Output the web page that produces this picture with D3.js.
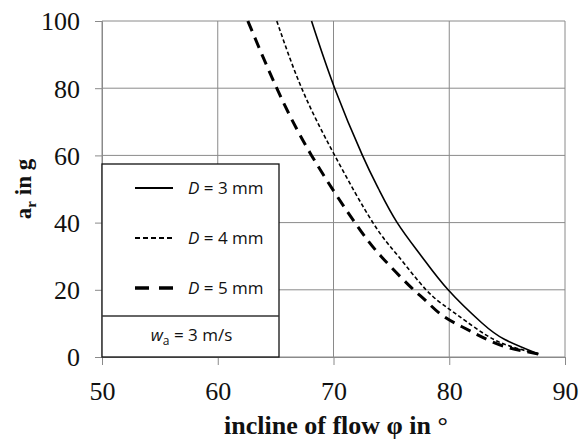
<!DOCTYPE html>
<html>
<head>
<meta charset="utf-8">
<script src="https://cdn.jsdelivr.net/npm/d3@7"></script>
<style>
  body { margin: 0; background: #fff; }
  svg { display: block; }
</style>
</head>
<body>
<div id="chart"></div>
<script>
// values
const xTicks = [50, 60, 70, 80, 90];
const yTicks = [0, 20, 40, 60, 80, 100];

const seriesNames = ["D = 3 mm", "D = 4 mm", "D = 5 mm"];
const d3mm = [[68.1,100],[70.1,80],[72.5,60],[73.9,50],[75.5,40],[77.6,30],[79.9,20],[82.8,10.2],[84.8,5.2],[87.7,0.9]];
const d4mm = [[65.1,100],[67.25,80],[70.1,60],[73.4,40],[75.6,30],[78.0,20],[79.9,14.5],[81.5,10.5],[83.2,6.5],[85.0,3.5],[87.7,0.9]];
const d5mm = [[62.6,100],[65.1,80],[68.1,60],[71.85,40],[74.1,30],[76.5,21.4],[77.9,17],[79.35,12.5],[81.1,9],[82.8,6],[84.8,3.1],[87.7,0.9]];

const styles = [
  { width: 1.6, dash: null },
  { width: 1.6, dash: "4,2.5" },
  { width: 3, dash: "11,7" }
];

const serif = "'Liberation Serif', 'Times New Roman', serif";
const sans = "'Open Sans', 'Liberation Sans', sans-serif";

const width = 587, height = 439;
const margin = { top: 21, right: 22, bottom: 82, left: 102 };
const innerWidth = width - margin.left - margin.right;
const innerHeight = height - margin.top - margin.bottom;

const svg = d3.select("#chart").append("svg")
  .attr("width", width).attr("height", height);
const g = svg.append("g").attr("transform", `translate(${margin.left},${margin.top})`);

const x = d3.scaleLinear().domain([50, 90]).range([0, innerWidth]);
const y = d3.scaleLinear().domain([0, 100]).range([innerHeight, 0]);

// grid
g.append("g").selectAll("line").data(xTicks).join("line")
  .attr("x1", d => x(d)).attr("x2", d => x(d))
  .attr("y1", 0).attr("y2", innerHeight)
  .attr("stroke", "#8a8a8a").attr("stroke-width", 1);
g.append("g").selectAll("line").data(yTicks).join("line")
  .attr("x1", 0).attr("x2", innerWidth)
  .attr("y1", d => y(d)).attr("y2", d => y(d))
  .attr("stroke", "#8a8a8a").attr("stroke-width", 1);

// axes
const xAxis = g.append("g").attr("transform", `translate(0,${innerHeight})`)
  .call(d3.axisBottom(x).tickValues(xTicks).tickSize(8));
const yAxis = g.append("g")
  .call(d3.axisLeft(y).tickValues(yTicks).tickSize(7));
[xAxis, yAxis].forEach(a => {
  a.attr("font-family", null).attr("font-size", null);
  a.select(".domain").attr("stroke", "#8a8a8a");
  a.selectAll(".tick line").attr("stroke", "#8a8a8a");
  a.selectAll(".tick text")
    .style("font-family", serif).style("font-size", "26px").attr("fill", "#111");
});
yAxis.selectAll(".tick text").attr("x", -22).attr("dy", "0.34em");
xAxis.selectAll(".tick text").attr("y", 43).attr("dy", 0);

// curves
const line = d3.line().x(d => x(d[0])).y(d => y(d[1])).curve(d3.curveNatural);
[d3mm, d4mm, d5mm].forEach((s, i) => {
  g.append("path").datum(s)
    .attr("d", line)
    .attr("fill", "none")
    .attr("stroke", "#000")
    .attr("stroke-width", styles[i].width)
    .attr("stroke-dasharray", styles[i].dash);
});

// legend box
const lg = g.append("g");
const boxW = 177, boxTop = 143;
lg.append("rect").attr("x", 0).attr("y", boxTop)
  .attr("width", boxW).attr("height", innerHeight - boxTop)
  .attr("fill", "#fff").attr("stroke", "#111").attr("stroke-width", 1.3);
lg.append("line").attr("x1", 0).attr("x2", boxW)
  .attr("y1", 295).attr("y2", 295)
  .attr("stroke", "#333").attr("stroke-width", 1.3);

seriesNames.forEach((name, i) => {
  const ly = 167 + i * 50;
  lg.append("line").attr("x1", 33).attr("x2", 71)
    .attr("y1", ly).attr("y2", ly)
    .attr("stroke", "#000")
    .attr("stroke-width", i === 2 ? 3.5 : 2)
    .attr("stroke-dasharray", i === 1 ? "5,3" : (i === 2 ? "14,10" : null));
  const t = lg.append("text").attr("x", 86).attr("y", ly + 6)
    .style("font-family", sans).style("font-size", "17px").attr("fill", "#111");
  t.append("tspan").attr("font-style", "italic").text("D");
  t.append("tspan").text(name.slice(1));
});
const wt = lg.append("text").attr("x", boxW / 2 + 1).attr("y", 320)
  .attr("text-anchor", "middle")
  .style("font-family", sans).style("font-size", "17px").attr("fill", "#111");
wt.append("tspan").attr("font-style", "italic").text("w");
wt.append("tspan").style("font-size", "12px").attr("dy", 4).text("a");
wt.append("tspan").attr("dy", -4).text(" = 3 m/s");

// axis titles
svg.append("text")
  .attr("x", 336).attr("y", 434)
  .attr("text-anchor", "middle")
  .style("font-family", serif).style("font-size", "26px")
  .attr("font-weight", "bold").attr("fill", "#111")
  .text("incline of flow φ in °");

const yt = svg.append("text")
  .attr("transform", `translate(31,${margin.top + innerHeight / 2}) rotate(-90)`)
  .attr("text-anchor", "middle")
  .style("font-family", serif).style("font-size", "23px")
  .attr("font-weight", "bold").attr("fill", "#111");
yt.append("tspan").text("a");
yt.append("tspan").style("font-size", "15px").attr("dy", 5).text("r");
yt.append("tspan").attr("dy", -5).text(" in g");
</script>
</body>
</html>
